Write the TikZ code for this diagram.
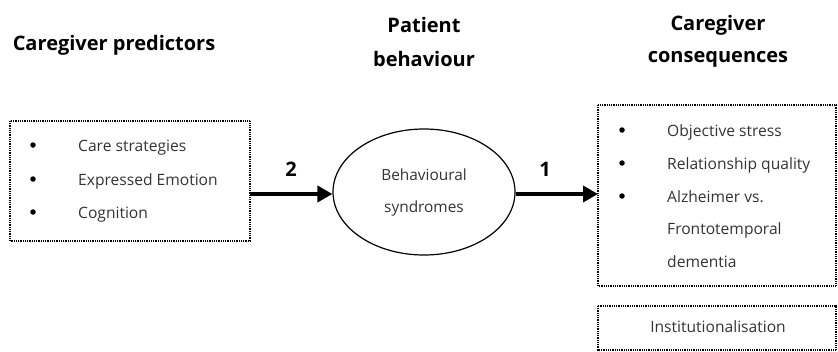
\documentclass[tikz,border=0pt]{standalone}
\usepackage{fontspec}
\setmainfont{Open Sans}
\usetikzlibrary{arrows.meta,shapes.geometric}
\definecolor{txt}{HTML}{333333}
\tikzset{
  dotbox/.style={draw=black, line width=1.1pt, dash pattern=on 0.9pt off 0.9pt, inner sep=0pt},
  head/.style={font=\bfseries\fontsize{20}{24}\selectfont, text=black, align=center},
  body/.style={font=\fontsize{15.6}{19}\selectfont, text=txt, anchor=base west, inner sep=0pt},
  bul/.style={circle, fill=black, inner sep=0pt, minimum size=5.5pt},
  bigarrow/.style={line width=4pt, -{Triangle[length=15pt,width=16pt]}},
  num/.style={font=\bfseries\fontsize{20}{24}\selectfont, text=black},
}
\begin{document}
\begin{tikzpicture}[x=1pt,y=-1pt]
\useasboundingbox (0,0) rectangle (838,351);
% headers
\node[head] (h1) at (114,45) {Caregiver predictors};
\node[head] (h2a) at (424,25) {Patient};
\node[head] (h2b) at (424,59) {behaviour};
\node[head] (h3a) at (718,25) {Caregiver};
\node[head] (h3b) at (718,59) {consequences};
% left box
\draw[dotbox] (10,121) rectangle (250,241);
\coordinate (L) at (250,194);
\node[bul] (b1) at (33,145) {};
\node[bul] (b2) at (33,179) {};
\node[bul] (b3) at (33,212) {};
\node[body] (t1) at (78,151) {Care strategies};
\node[body] (t2) at (78,185) {Expressed Emotion};
\node[body] (t3) at (78,218) {Cognition};
% ellipse
\node[ellipse, draw=black, line width=1.2pt, minimum width=182pt, minimum height=126pt, inner sep=0pt, font=\fontsize{15.4}{32}\selectfont, text=txt, align=center] (E) at (424,192) {Behavioural\\syndromes};
% right box
\draw[dotbox] (598,105) rectangle (836,286);
\coordinate (R) at (598,194);
\node[bul] (c1) at (622,130) {};
\node[bul] (c2) at (622,163) {};
\node[bul] (c3) at (622,196) {};
\node[body] (u1) at (667,136) {Objective stress};
\node[body] (u2) at (667,169) {Relationship quality};
\node[body] (u3) at (667,202) {Alzheimer vs.};
\node[body] (u4) at (667,234) {Frontotemporal};
\node[body] (u5) at (667,267) {dementia};
% institutionalisation
\draw[dotbox] (598,306) rectangle (836,350);
\node[font=\fontsize{15.6}{19}\selectfont, text=txt] (inst) at (718,327) {Institutionalisation};
% arrows
\draw[bigarrow] (L) -- (E.west |- L);
\draw[bigarrow] (E.east |- R) -- (R);
\node[num] (n2) at (291,169) {2};
\node[num] (n1) at (545,169) {1};
\end{tikzpicture}
\end{document}
